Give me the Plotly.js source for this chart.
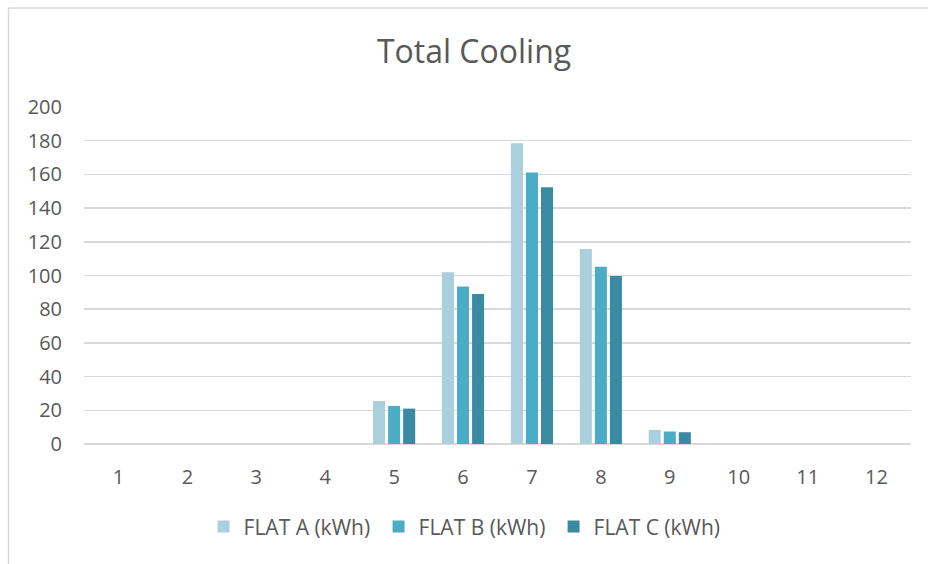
<!DOCTYPE html>
<html>
<head>
<meta charset="utf-8">
<script src="https://cdn.plot.ly/plotly-3.0.1.min.js"></script>
<style>
  html, body { margin: 0; padding: 0; background: #fff; }
  #chart { width: 928px; height: 564px; }
</style>
</head>
<body>
<div id="chart"></div>
<script>
// Monthly cooling energy per flat (kWh)
const months = ['1', '2', '3', '4', '5', '6', '7', '8', '9', '10', '11', '12'];
const flatA = [0, 0, 0, 0, 25.5, 102, 178.5, 115.8, 8.3, 0, 0, 0];
const flatB = [0, 0, 0, 0, 22.6, 93.4, 161.2, 105.2, 7.4, 0, 0, 0];
const flatC = [0, 0, 0, 0, 21.0, 89.0, 152.3, 99.7, 7.0, 0, 0, 0];
const seriesNames = ['FLAT A (kWh)', 'FLAT B (kWh)', 'FLAT C (kWh)'];
const yTicks = [0, 20, 40, 60, 80, 100, 120, 140, 160, 180, 200];

const colors = ['#AACFDD', '#4BACC6', '#3A8BA1'];
const textColor = '#595959';
const gridColor = '#D9D9D9';
const fontFamily = '"Open Sans", "Liberation Sans", sans-serif';

const traces = [flatA, flatB, flatC].map((vals, i) => ({
  type: 'bar',
  x: months,
  y: vals,
  name: seriesNames[i],
  marker: { color: colors[i], line: { width: 0 } },
  hoverinfo: 'x+y+name'
}));

const layout = {
  width: 928,
  height: 564,
  margin: { l: 84, r: 17, t: 107, b: 120 },
  paper_bgcolor: '#ffffff',
  plot_bgcolor: '#ffffff',
  font: { family: fontFamily, color: textColor, size: 20 },
  title: {
    text: 'Total Cooling',
    font: { family: fontFamily, size: 32, color: textColor },
    x: 0.4716, xanchor: 'center', xref: 'paper',
    y: 0.908, yanchor: 'middle', yref: 'container'
  },
  barmode: 'group',
  bargap: 0.345,
  bargroupgap: 0.2,
  showlegend: true,
  legend: {
    orientation: 'h',
    x: 0.462, xanchor: 'center',
    y: -0.246, yanchor: 'middle',
    font: { family: fontFamily, size: 21, color: textColor },
    entrywidth: 130,
    entrywidthmode: 'pixels',
    traceorder: 'normal'
  },
  xaxis: {
    type: 'category',
    showgrid: false,
    showline: false,
    zeroline: false,
    ticks: '',
    ticklabelstandoff: 19,
    tickfont: { family: fontFamily, size: 20, color: textColor }
  },
  yaxis: {
    range: [0, 200],
    tickvals: yTicks,
    ticktext: yTicks.map(String),
    showgrid: true,
    gridcolor: gridColor,
    gridwidth: 1.5,
    zeroline: true,
    zerolinecolor: gridColor,
    zerolinewidth: 1.5,
    showline: false,
    ticks: '',
    ticklabelstandoff: 21,
    tickfont: { family: fontFamily, size: 20, color: textColor }
  },
  shapes: [
    // chart frame: left and top edges
    { type: 'line', xref: 'paper', yref: 'paper',
      x0: -0.0913, x1: -0.0913, y0: 1.2938, y1: -0.4,
      line: { color: gridColor, width: 1.5 } },
    { type: 'line', xref: 'paper', yref: 'paper',
      x0: -0.0913, x1: 1.1, y0: 1.2938, y1: 1.2938,
      line: { color: gridColor, width: 1.5 } }
  ]
};

Plotly.newPlot('chart', traces, layout, { displayModeBar: false, staticPlot: true });
</script>
</body>
</html>
